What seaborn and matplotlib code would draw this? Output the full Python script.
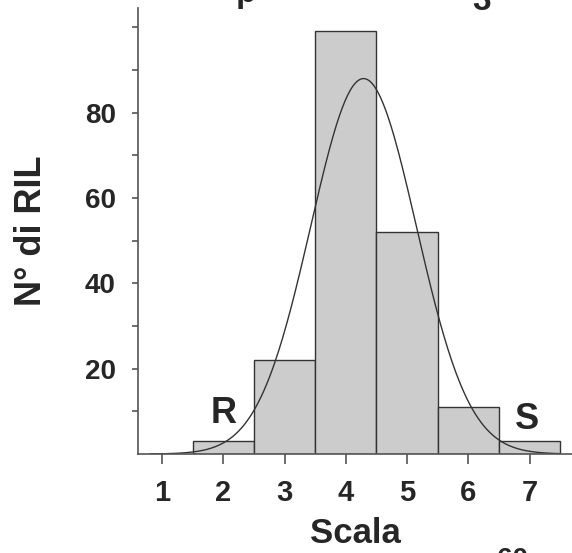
import numpy as np
import pandas as pd
import matplotlib
matplotlib.use("Agg")
import matplotlib.pyplot as plt
import seaborn as sns
from matplotlib.ticker import FixedLocator

# data
scale = [2, 3, 4, 5, 6, 7]
counts = [3, 22, 99, 52, 11, 3]
xticks = [1, 2, 3, 4, 5, 6, 7]
yticks = [20, 40, 60, 80]

sns.set_style("white")
plt.rcParams['font.family'] = ['Liberation Sans', 'DejaVu Sans']

df = pd.DataFrame({"Scala": scale, "n": counts})

fig = plt.figure(figsize=(5.72, 5.53), dpi=100)
ax = fig.add_axes([138/572, 1 - 454/553, 1 - 138/572, (454 - 8)/553])

sns.histplot(data=df, x="Scala", weights="n", discrete=True, ax=ax,
             color="#cccccc", edgecolor="#333333", linewidth=1.0, alpha=1.0)

# fitted normal curve from the data
vals = np.repeat(scale, counts)
mu = vals.mean()
sd = vals.std()
xs = np.linspace(0.8, 7.5, 300)
ys = len(vals) * np.exp(-0.5 * ((xs - mu) / sd) ** 2) / (sd * np.sqrt(2 * np.pi))
sns.lineplot(x=xs, y=ys, ax=ax, color="#333333", linewidth=1.0)

ax.set_xlim(0.61, 7.69)
ax.set_ylim(0, 104.5)
ax.set_xticks(xticks)
ax.yaxis.set_major_locator(FixedLocator(yticks))
ax.yaxis.set_minor_locator(FixedLocator([10, 30, 50, 70, 90, 100]))

for s in ["top", "right"]:
    ax.spines[s].set_visible(False)
for s in ["left", "bottom"]:
    ax.spines[s].set_color("#555555")
    ax.spines[s].set_linewidth(1.2)

ax.tick_params(axis="x", which="both", direction="out", length=7, width=1.2,
               color="#555555", pad=11, labelsize=21, bottom=True)
ax.tick_params(axis="y", which="both", direction="out", length=4, width=1.2,
               color="#555555", pad=12, labelsize=20, left=True)
for lab in ax.get_xticklabels() + ax.get_yticklabels():
    lab.set_fontweight("bold")

ax.set_xlabel("Scala", fontsize=25, fontweight="bold", labelpad=7)
ax.set_ylabel("N° di RIL", fontsize=26, fontweight="bold", labelpad=26)

ax.text(2, 9.5, "R", ha="center", va="center", fontsize=26, fontweight="bold")
ax.text(6.95, 8.0, "S", ha="center", va="center", fontsize=26, fontweight="bold")

# fragments cut off at the edges of the picture
fig.text(246/572, 1 - 2/553, "p", ha="center", va="baseline",
         fontsize=24, fontweight="bold")
fig.text(482/572, 1 - 10/553, "3", ha="center", va="baseline",
         fontsize=24, fontweight="bold")
fig.text(513/572, 1 - 547/553, "60", ha="center", va="top",
         fontsize=20, fontweight="bold")

fig.savefig("out.png", dpi=100)
